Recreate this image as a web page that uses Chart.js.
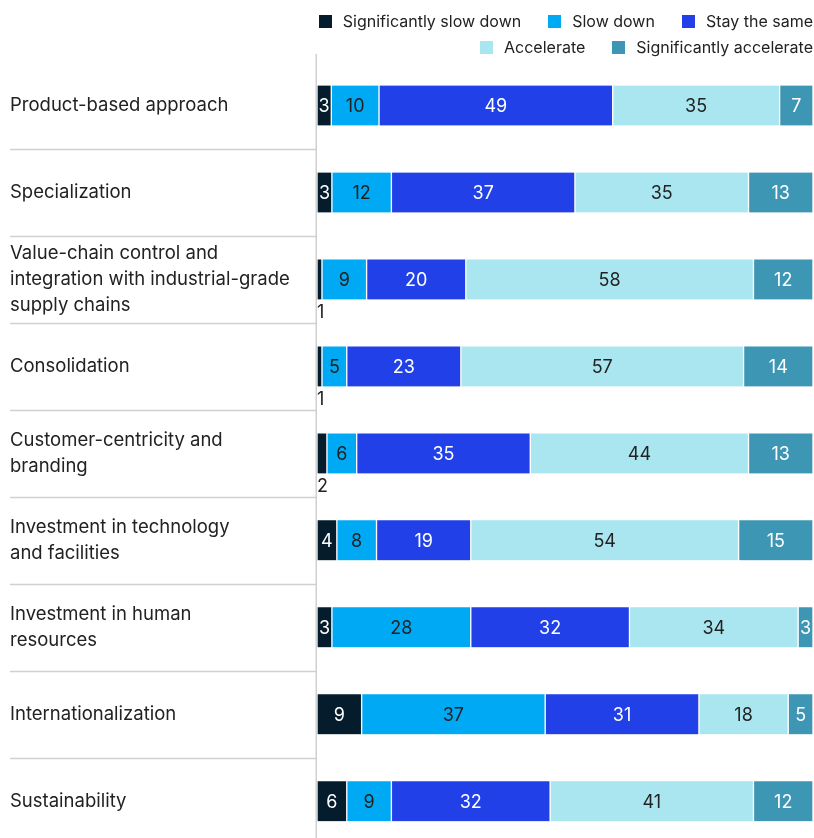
<!DOCTYPE html>
<html>
<head>
<meta charset="utf-8">
<script src="https://cdn.jsdelivr.net/npm/chart.js@4.4.1/dist/chart.umd.min.js"></script>
<style>
  html, body { margin: 0; padding: 0; background: #fff; overflow: hidden; }
  #wrap { position: relative; width: 814px; height: 858px; }
  #legend {
    position: absolute; top: 8px; left: 0; right: 1px;
    display: flex; flex-wrap: wrap; justify-content: flex-end;
    font: 16px Inter, 'Noto Sans', sans-serif; color: #222;
  }
  .item { display: flex; align-items: center; height: 26px; margin-left: 27px; white-space: nowrap; }
  .box { width: 13px; height: 13px; margin-right: 11px; }
  .break { flex-basis: 100%; height: 0; }
</style>
</head>
<body>
<div id="wrap">
  <div id="legend"></div>
  <canvas id="chart"></canvas>
</div>
<script>
// -----------------------------
// Data
// -----------------------------
const categories = [
  "Product-based approach",
  "Specialization",
  ["Value-chain control and", "integration with industrial-grade", "supply chains"],
  "Consolidation",
  ["Customer-centricity and", "branding"],
  ["Investment in technology", "and facilities"],
  ["Investment in human", "resources"],
  "Internationalization",
  "Sustainability"
];

const seriesNames = ["Significantly slow down", "Slow down", "Stay the same", "Accelerate", "Significantly accelerate"];
const seriesColors = ["#051c2c", "#00a9f4", "#2140e8", "#aae6f0", "#3c96b4"];
const labelColors = ["#ffffff", "#222222", "#ffffff", "#222222", "#ffffff"];

const sigSlowDown = [3, 3, 1, 1, 2, 4, 3, 9, 6];
const slowDown = [10, 12, 9, 5, 6, 8, 28, 37, 9];
const stayTheSame = [49, 37, 20, 23, 35, 19, 32, 31, 32];
const accelerate = [35, 35, 58, 57, 44, 54, 34, 18, 41];
const sigAccelerate = [7, 13, 12, 14, 13, 15, 3, 5, 12];

const series = [sigSlowDown, slowDown, stayTheSame, accelerate, sigAccelerate];

// each row is drawn as a 100% bar
const rowTotals = categories.map((c, i) => series.reduce((s, arr) => s + arr[i], 0));

const FONT = "Inter, 'Noto Sans', sans-serif";

// -----------------------------
// Legend (two rows, right aligned)
// -----------------------------
const legendEl = document.getElementById("legend");
seriesNames.forEach((name, i) => {
  if (i === 3) {
    const br = document.createElement("div");
    br.className = "break";
    legendEl.appendChild(br);
  }
  const item = document.createElement("div");
  item.className = "item";
  item.innerHTML = '<span class="box" style="background:' + seriesColors[i] + '"></span>' + name;
  legendEl.appendChild(item);
});

// -----------------------------
// Plugins
// -----------------------------
const separators = {
  id: "separators",
  afterDraw(chart) {
    const y = chart.scales.y;
    const ctx = chart.ctx;
    const half = (y.getPixelForValue(1) - y.getPixelForValue(0)) / 2;
    ctx.save();
    ctx.strokeStyle = "#d0d0d0";
    ctx.lineWidth = 1.5;
    for (let i = 0; i < categories.length - 1; i++) {
      const py = Math.round(y.getPixelForValue(i) + half) + 0.5;
      ctx.beginPath();
      ctx.moveTo(10, py);
      ctx.lineTo(chart.chartArea.left - 1, py);
      ctx.stroke();
    }
    // vertical axis line, starts a little above the plot
    const px = chart.chartArea.left - 0.75;
    ctx.beginPath();
    ctx.moveTo(px, chart.chartArea.top - 8);
    ctx.lineTo(px, chart.height);
    ctx.stroke();
    ctx.restore();
  }
};

const barValues = {
  id: "barValues",
  afterDatasetsDraw(chart) {
    const ctx = chart.ctx;
    ctx.save();
    ctx.font = "18px " + FONT;
    chart.data.datasets.forEach((ds, di) => {
      const meta = chart.getDatasetMeta(di);
      meta.data.forEach((bar, i) => {
        const v = series[di][i];
        ctx.textBaseline = "middle";
        if (v < 3) {
          ctx.fillStyle = "#222222";
          ctx.textAlign = "left";
          ctx.fillText(String(v), bar.base, bar.y + bar.height / 2 + 13);
        } else {
          ctx.fillStyle = labelColors[di];
          ctx.textAlign = "center";
          ctx.fillText(String(v), (bar.x + bar.base) / 2, bar.y + 1);
        }
      });
    });
    ctx.restore();
  }
};

// -----------------------------
// Chart
// -----------------------------
const datasets = series.map((arr, di) => ({
  label: seriesNames[di],
  data: arr.map((v, i) => v / rowTotals[i] * 100),
  backgroundColor: seriesColors[di],
  borderColor: "#ffffff",
  borderWidth: { left: 1, right: 1, top: 0, bottom: 0 },
  borderSkipped: false,
  barThickness: 40
}));

new Chart(document.getElementById("chart"), {
  type: "bar",
  data: { labels: categories, datasets },
  options: {
    indexAxis: "y",
    responsive: true,
    maintainAspectRatio: false,
    animation: false,
    layout: { padding: { left: 10, right: 1, top: 62, bottom: 2 } },
    scales: {
      x: { stacked: true, min: 0, max: 100, display: false },
      y: {
        stacked: true,
        grid: { display: false },
        border: { display: false },
        ticks: {
          crossAlign: "far",
          color: "#222222",
          padding: 0,
          font: { family: FONT, size: 18.5, lineHeight: 1.43 }
        },
        afterFit(scale) { scale.width = 307; }
      }
    },
    plugins: {
      tooltip: { enabled: false },
      legend: { display: false }
    }
  },
  plugins: [separators, barValues]
});
</script>
</body>
</html>
